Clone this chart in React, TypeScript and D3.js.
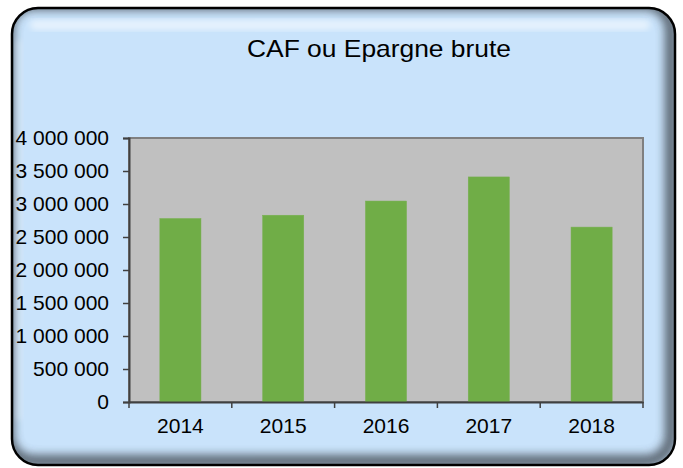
import React, { useEffect, useRef } from 'react';
import * as d3 from 'd3';

const years = ['2014', '2015', '2016', '2017', '2018'];
const caf = [2780000, 2830000, 3045000, 3410000, 2650000];
const yTicks = [0, 500000, 1000000, 1500000, 2000000, 2500000, 3000000, 3500000, 4000000];
const title = 'CAF ou Epargne brute';

const W = 683;
const H = 468;
const plot = { left: 129, right: 643, top: 138, bottom: 402 };

const fr = d3.formatLocale({ decimal: ',', thousands: ' ', grouping: [3], currency: ['', ' €'] });
const fmt = fr.format(',d');

export default function App() {
  const axRef = useRef<SVGGElement>(null);

  const x = d3.scaleBand().domain(years).range([plot.left, plot.right]).paddingInner(0.6).paddingOuter(0.3);
  const xb = d3.scaleBand().domain(years).range([plot.left, plot.right]);
  const y = d3.scaleLinear().domain([0, 4000000]).range([plot.bottom, plot.top]);

  useEffect(() => {
    const g = d3.select(axRef.current);
    g.selectAll('*').remove();

    // y axis
    const ya = g.append('g').attr('transform', `translate(${plot.left},0)`)
      .call(d3.axisLeft(y).tickValues(yTicks).tickFormat((d) => fmt(+d)).tickSize(6).tickPadding(14));
    ya.select('.domain').attr('stroke', '#404040').attr('stroke-width', 2);
    ya.selectAll('.tick line').attr('stroke', '#404040').attr('stroke-width', 1.5);
    ya.selectAll('.tick text').attr('fill', '#000').attr('font-size', 21)
      .attr('font-family', 'Liberation Sans, Arial, sans-serif');

    // x axis: ticks on the band edges
    const xa = g.append('g').attr('transform', `translate(0,${plot.bottom})`)
      .call(d3.axisBottom(x).tickSize(0).tickPadding(16));
    xa.select('.domain').attr('stroke', '#404040').attr('stroke-width', 2);
    xa.selectAll('.tick text').attr('fill', '#000').attr('font-size', 21)
      .attr('font-family', 'Liberation Sans, Arial, sans-serif');
    const edges = years.map((d) => xb(d) as number).concat([plot.right]);
    xa.selectAll('line.edge').data(edges).enter().append('line')
      .attr('class', 'edge')
      .attr('x1', (d) => d).attr('x2', (d) => d)
      .attr('y1', 0).attr('y2', 6)
      .attr('stroke', '#404040').attr('stroke-width', 1.5);
  }, []);

  return (
    <svg width={W} height={H} style={{ position: 'absolute', left: 0, top: 0, display: 'block' }}>
      <defs>
        <clipPath id="frameClip">
          <rect x={12} y={8} width={663} height={457} rx={26} ry={26} />
        </clipPath>
        <filter id="blur8" x="-20%" y="-20%" width="140%" height="140%">
          <feGaussianBlur stdDeviation={5} />
        </filter>
        <filter id="blur3" x="-20%" y="-20%" width="140%" height="140%">
          <feGaussianBlur stdDeviation={3} />
        </filter>
      </defs>

      {/* frame */}
      <rect x={12} y={8} width={663} height={457} rx={26} ry={26} fill="#c9e3fb" />
      <g clipPath="url(#frameClip)">
        <rect x={8} y={4} width={663} height={457} rx={26} ry={26} fill="none"
          stroke="#4d5661" strokeWidth={12} filter="url(#blur8)" opacity={0.9} />
        <rect x={30} y={20} width={620} height={10} rx={5} fill="#ffffff" opacity={0.55} filter="url(#blur3)" />
        <rect x={16} y={40} width={6} height={380} fill="#ffffff" opacity={0.3} filter="url(#blur3)" />
      </g>
      <rect x={12} y={8} width={663} height={457} rx={26} ry={26} fill="none" stroke="#000" strokeWidth={2.5} />

      {/* title */}
      <text x={379} y={57} textAnchor="middle" fontSize={24} textLength={264} lengthAdjust="spacingAndGlyphs"
        fontFamily="Liberation Sans, Arial, sans-serif" fill="#000">
        {title}
      </text>

      {/* plot area */}
      <rect x={plot.left} y={plot.top} width={plot.right - plot.left} height={plot.bottom - plot.top}
        fill="#c0c0c0" stroke="#808080" strokeWidth={2} />

      {years.map((d, i) => (
        <rect key={d} x={x(d)} y={y(caf[i])} width={x.bandwidth()} height={plot.bottom - y(caf[i])}
          fill="#70ad47" stroke="#78b050" strokeWidth={0.5} />
      ))}

      <g ref={axRef} />
    </svg>
  );
}
